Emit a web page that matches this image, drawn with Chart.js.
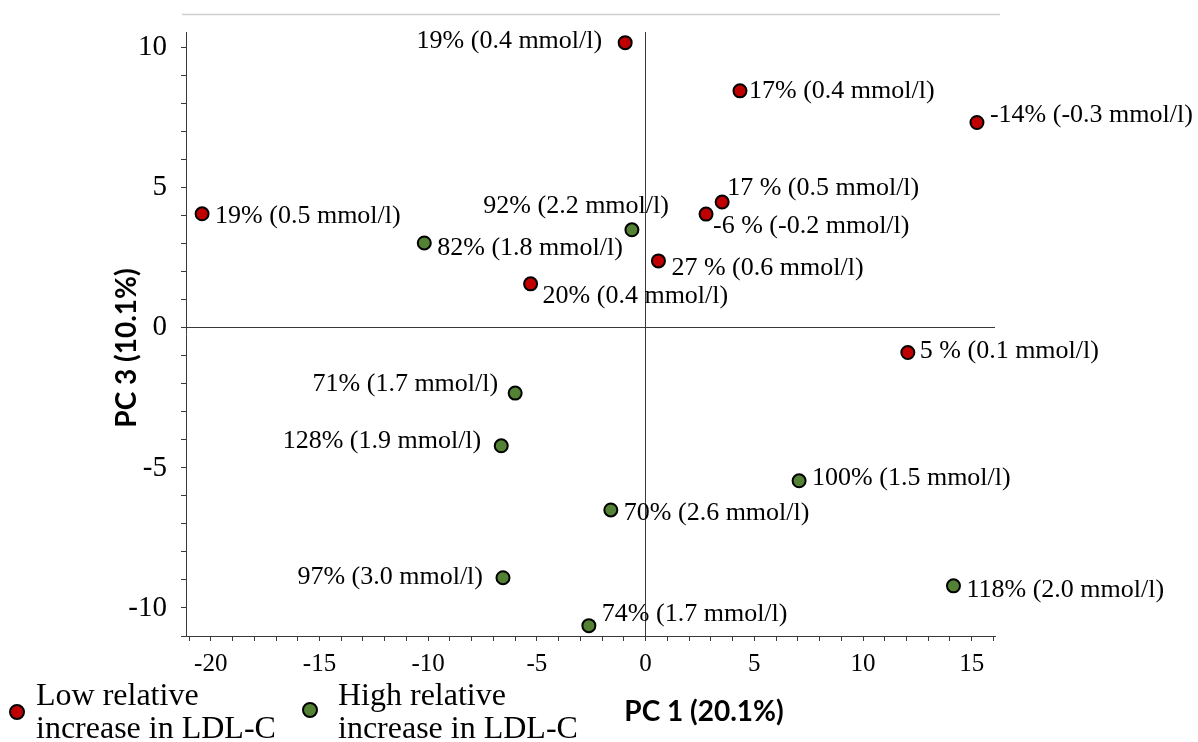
<!DOCTYPE html>
<html>
<head>
<meta charset="utf-8">
<title>PCA scores: PC 1 vs PC 3</title>
<style>
  html, body { margin: 0; padding: 0; background: #ffffff; }
  #wrap { width: 1198px; height: 742px; position: relative; }
  canvas { display: block; }
</style>
<script src="https://cdn.jsdelivr.net/npm/chart.js@4.4.1/dist/chart.umd.min.js"></script>
</head>
<body>
<div id="wrap"><canvas id="c" width="1198" height="742"></canvas></div>
<script>
// Subject scores on the first and third principal components, split by LDL-C response
const lowPC1 = [-0.94, 4.34, 15.24, -20.40, 3.52, 2.78, 0.59, -5.29, 12.06];
const lowPC3 = [10.18, 8.46, 7.33, 4.07, 4.49, 4.06, 2.39, 1.57, -0.88];
const lowLabels = [
  '19% (0.4 mmol/l)', '17% (0.4 mmol/l)', '-14% (-0.3 mmol/l)',
  '19% (0.5 mmol/l)', '17 % (0.5 mmol/l)', '-6 % (-0.2 mmol/l)',
  '27 % (0.6 mmol/l)', '20% (0.4 mmol/l)', '5 % (0.1 mmol/l)'
];

const highPC1 = [-0.63, -10.18, -6.00, -6.64, 7.06, -1.60, -6.56, 14.16, -2.61];
const highPC3 = [3.50, 3.03, -2.33, -4.21, -5.46, -6.50, -8.92, -9.21, -10.63];
const highLabels = [
  '92% (2.2 mmol/l)', '82% (1.8 mmol/l)', '71% (1.7 mmol/l)',
  '128% (1.9 mmol/l)', '100% (1.5 mmol/l)', '70% (2.6 mmol/l)',
  '97% (3.0 mmol/l)', '118% (2.0 mmol/l)', '74% (1.7 mmol/l)'
];

const groupNames = [
  ['Low relative', 'increase in LDL-C'],
  ['High relative', 'increase in LDL-C']
];
const xTitle = 'PC 1 (20.1%)';
const yTitle = 'PC 3 (10.1%)';
const xRange = [-21.14, 16.07];
const yRange = [-11.0, 10.56];

// Where each point's annotation sits relative to the marker: [textAlign, dx, baseline dy]
const lowPlacement = [
  ['right', -23, 5], ['left', 9, 7], ['left', 13, 0],
  ['left', 13, 9], ['left', 5, -7], ['left', 7, 19],
  ['left', 13, 14], ['left', 12, 19], ['left', 12, 6]
];
const highPlacement = [
  ['right', 37, -17], ['left', 13, 12], ['right', -17, -2],
  ['right', -20, 2], ['left', 13, 4], ['left', 13, 10],
  ['right', -20, 6], ['left', 13, 11], ['left', 13, -5]
];

const RED = '#c00000';
const GREEN = '#548235';
const AXIS = '#3a3a3a';
const SERIF = '"Liberation Serif", "Times New Roman", serif';

const toPoints = (xs, ys) => xs.map((x, i) => ({ x: x, y: ys[i] }));

const annotate = {
  id: 'annotate',
  afterDatasetsDraw(chart) {
    const ctx = chart.ctx;
    ctx.save();
    ctx.font = '26px ' + SERIF;
    ctx.fillStyle = '#000';
    ctx.textBaseline = 'alphabetic';
    chart.data.datasets.forEach((ds, di) => {
      const meta = chart.getDatasetMeta(di);
      meta.data.forEach((pt, i) => {
        const [align, dx, dy] = ds.labelPlacement[i];
        ctx.textAlign = align;
        ctx.fillText(ds.pointLabels[i], pt.x + dx, pt.y + dy);
      });
    });
    ctx.restore();
  },
  afterDraw(chart) {
    const ctx = chart.ctx;
    const area = chart.chartArea;
    ctx.save();

    // thin rule above the plot
    ctx.strokeStyle = '#cfcfcf';
    ctx.lineWidth = 1.5;
    ctx.beginPath();
    ctx.moveTo(area.left - 4, 14.5);
    ctx.lineTo(area.right + 5, 14.5);
    ctx.stroke();

    // axis titles
    ctx.fillStyle = '#000';
    ctx.font = 'bold 28px Lato, "Liberation Sans", sans-serif';
    ctx.textAlign = 'center';
    ctx.textBaseline = 'alphabetic';
    ctx.fillText(xTitle, area.left + 518, 721);
    ctx.save();
    ctx.translate(136, (area.top + area.bottom) / 2 + 14);
    ctx.rotate(-Math.PI / 2);
    ctx.fillText(yTitle, 0, 0);
    ctx.restore();

    // legend: marker followed by a two-line group name
    const legendAt = [{ x: 17, y: 712, tx: 36 }, { x: 310, y: 710, tx: 338 }];
    ctx.font = '32px ' + SERIF;
    ctx.textAlign = 'left';
    chart.data.datasets.forEach((ds, di) => {
      const p = legendAt[di];
      ctx.beginPath();
      ctx.arc(p.x, p.y, 7, 0, Math.PI * 2);
      ctx.fillStyle = ds.pointBackgroundColor;
      ctx.fill();
      ctx.lineWidth = 2;
      ctx.strokeStyle = '#000';
      ctx.stroke();
      ctx.fillStyle = '#000';
      ds.legendLines.forEach((line, li) => {
        ctx.fillText(line, p.tx, 705 + li * 33);
      });
    });
    ctx.restore();
  }
};

const zeroLine = (ctx) => (ctx.tick && ctx.tick.value === 0) ? AXIS : 'rgba(0,0,0,0)';
const every5 = (v) => (Math.round(v) % 5 === 0 ? String(v) : '');

new Chart(document.getElementById('c'), {
  type: 'scatter',
  data: {
    datasets: [
      {
        label: groupNames[0].join(' '),
        legendLines: groupNames[0],
        data: toPoints(lowPC1, lowPC3),
        pointLabels: lowLabels,
        labelPlacement: lowPlacement,
        pointBackgroundColor: RED,
        pointBorderColor: '#000',
        pointBorderWidth: 2,
        pointRadius: 6.5
      },
      {
        label: groupNames[1].join(' '),
        legendLines: groupNames[1],
        data: toPoints(highPC1, highPC3),
        pointLabels: highLabels,
        labelPlacement: highPlacement,
        pointBackgroundColor: GREEN,
        pointBorderColor: '#000',
        pointBorderWidth: 2,
        pointRadius: 6.5
      }
    ]
  },
  options: {
    responsive: false,
    animation: false,
    events: [],
    devicePixelRatio: 1,
    layout: { padding: { left: 0, top: 32, right: 203, bottom: 0 } },
    plugins: {
      legend: { display: false },
      tooltip: { enabled: false },
      title: { display: false }
    },
    scales: {
      x: {
        type: 'linear',
        position: 'bottom',
        min: xRange[0],
        max: xRange[1],
        afterFit: (s) => { s.height = 106; },
        border: { display: true, color: AXIS, width: 1 },
        grid: { drawOnChartArea: true, color: zeroLine, tickColor: AXIS, tickLength: 5, lineWidth: 1 },
        ticks: {
          stepSize: 1, includeBounds: false, autoSkip: false, maxRotation: 0,
          color: '#000', font: { family: SERIF, size: 25 }, padding: 8,
          callback: every5
        }
      },
      y: {
        type: 'linear',
        position: 'left',
        min: yRange[0],
        max: yRange[1],
        afterFit: (s) => { s.width = 186; },
        border: { display: true, color: AXIS, width: 1 },
        grid: { drawOnChartArea: true, color: zeroLine, tickColor: AXIS, tickLength: 5, lineWidth: 1 },
        ticks: {
          stepSize: 1, includeBounds: false, autoSkip: false,
          color: '#000', font: { family: SERIF, size: 29 }, padding: 14,
          callback: every5
        }
      }
    }
  },
  plugins: [annotate]
});
</script>
</body>
</html>
